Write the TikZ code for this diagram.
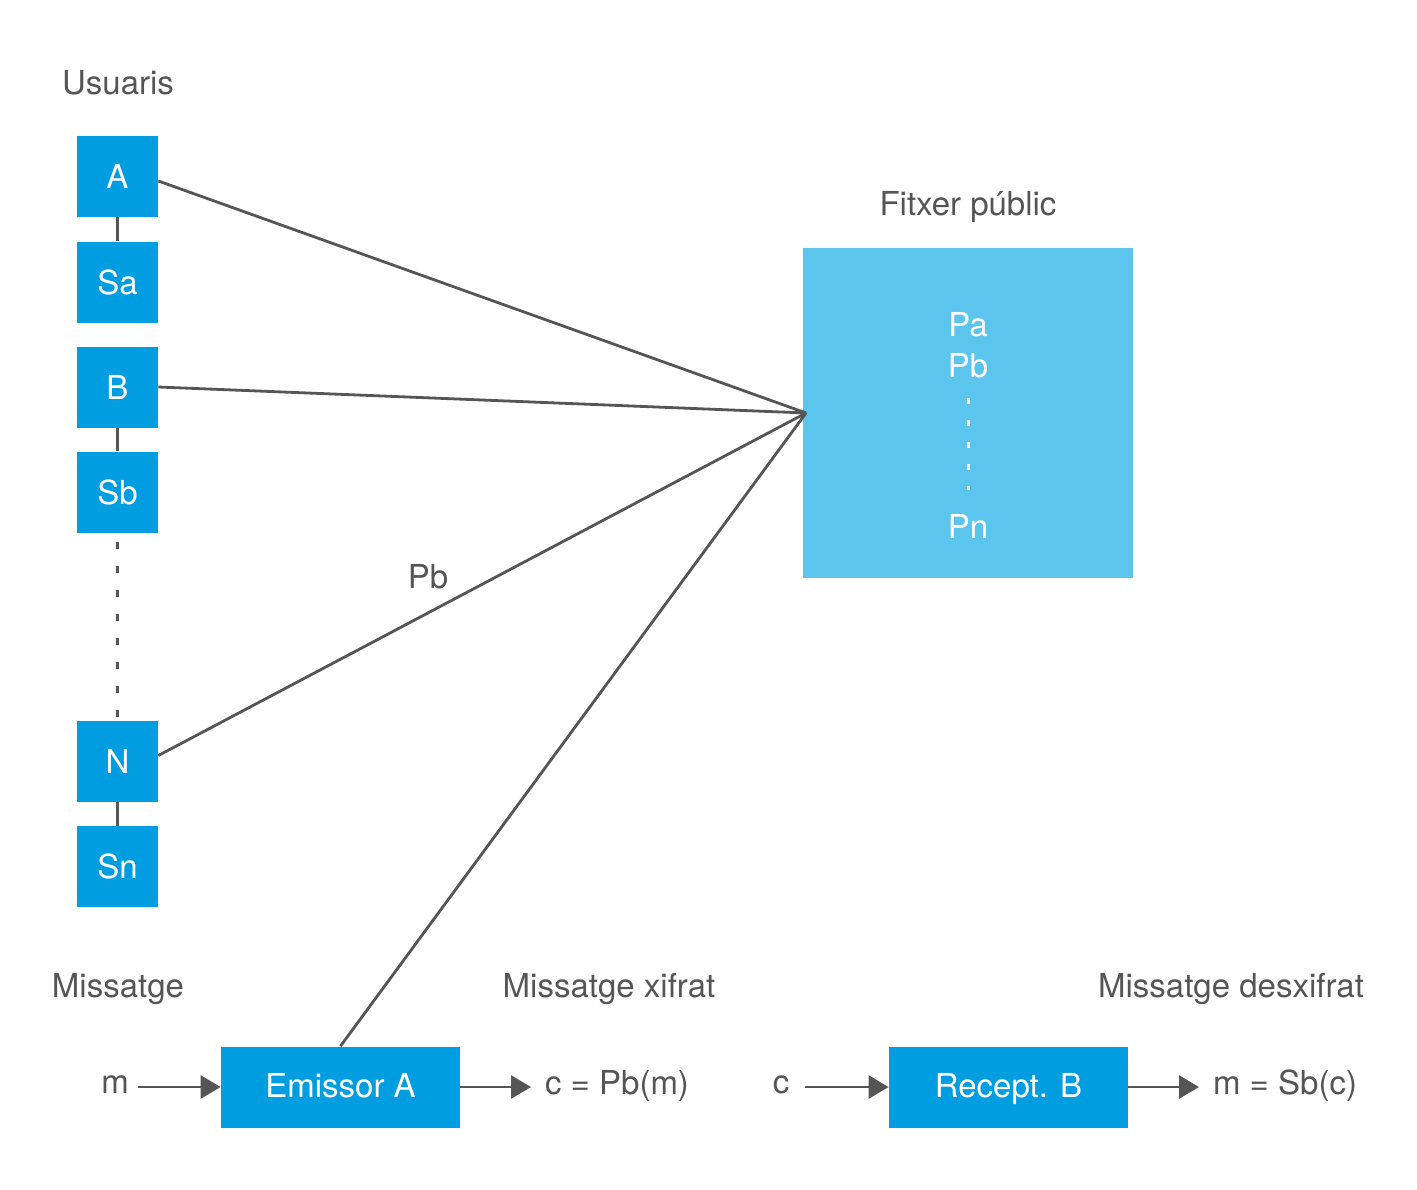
\documentclass[tikz,border=0pt]{standalone}
\usepackage{fontspec}
\setmainfont{TeX Gyre Heros}
\usetikzlibrary{arrows.meta}
\definecolor{boxblue}{RGB}{0,158,224}
\definecolor{lightblue}{RGB}{91,197,237}
\definecolor{txtgray}{RGB}{85,85,85}
\begin{document}
\begin{tikzpicture}[x=0.5pt,y=-0.5pt,
  every node/.style={font=\fontsize{16.5pt}{19pt}\selectfont},
  ubox/.style={fill=boxblue,text=white,minimum width=40.5pt,minimum height=40.5pt,inner sep=0pt},
  pbox/.style={fill=boxblue,text=white,minimum width=119.5pt,minimum height=40.5pt,inner sep=0pt,text height=12pt,text depth=2pt},
  lbl/.style={text=txtgray,inner sep=0pt},
  conn/.style={draw=txtgray,line width=1.4pt},
  arr/.style={draw=txtgray,line width=1.4pt,-{Triangle[length=10pt,width=11.5pt]}}]
\useasboundingbox (0,0) rectangle (1417,1189);

% users column
\node[lbl] (usuaris) at (118,83) {Usuaris};
\node[ubox] (A) at (117.5,176) {A};
\node[ubox] (Sa) at (117.5,282) {Sa};
\node[ubox] (B) at (117.5,387) {B};
\node[ubox] (Sb) at (117.5,492) {Sb};
\node[ubox] (N) at (117.5,761.5) {N};
\node[ubox] (Sn) at (117.5,866.5) {Sn};
\draw[conn] (A) -- (Sa);
\draw[conn] (B) -- (Sb);
\draw[conn] (N) -- (Sn);
\draw[conn,dash pattern=on 3.5pt off 8.5pt] ([yshift=-4.5pt]Sb.south) -- (N.north);

% public file
\node[lbl] (fitxer) at (968,207) {Fitxer públic};
\node[fill=lightblue,minimum width=165pt,minimum height=165pt,inner sep=0pt] (file) at (968,413) {};
\node[text=white,inner sep=0pt] (Pa) at (968,325) {Pa};
\node[text=white,inner sep=0pt] (Pbf) at (968,366) {Pb};
\node[text=white,inner sep=0pt] (Pn) at (968,526) {Pn};
\coordinate (dtop) at (968,398);
\coordinate (dbot) at (968,490);
\draw[white,line width=1.5pt,dash pattern=on 3pt off 8pt] (dtop) -- (dbot);

\coordinate (hub) at (806,413);
\draw[conn] ([yshift=-2.5pt]A.east) -- (hub);
\draw[conn] (B.east) -- (hub);
\draw[conn] ([yshift=3pt]N.east) -- (hub);
\node[lbl] (pblbl) at (428,577) {Pb};

% bottom row
\node[lbl] (miss) at (118,989) {Missatge};
\node[lbl] (missx) at (609,989) {Missatge xifrat};
\node[lbl] (missd) at (1231,989) {Missatge desxifrat};

\node[pbox] (em) at (340.5,1087) {Emissor A};
\node[pbox] (rec) at (1008.5,1087) {Recept. B};
\draw[conn] (em.north) -- (hub);

\node[lbl] (m) at (115,1085) {m};
\node[lbl] (cpb) at (617,1086) {c = Pb(m)};
\node[lbl] (c) at (781,1085) {c};
\node[lbl] (msb) at (1285,1086) {m = Sb(c)};

\draw[arr] (138,1087) coordinate (ma) -- (em.west);
\draw[arr] (em.east) -- (531,1087) coordinate (cpa);
\draw[arr] (805,1087) coordinate (ca) -- (rec.west);
\draw[arr] (rec.east) -- (1199,1087) coordinate (msa);
\end{tikzpicture}
\end{document}
